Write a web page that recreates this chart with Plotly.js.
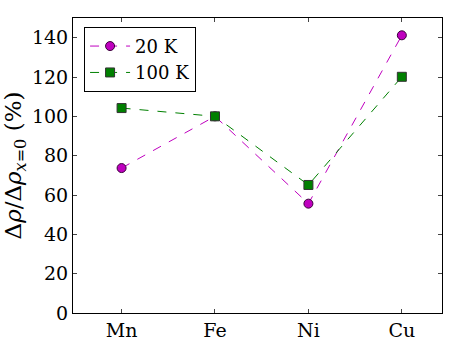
<!DOCTYPE html>
<html>
<head>
<meta charset="utf-8">
<script src="https://cdn.plot.ly/plotly-3.0.1.min.js"></script>
<style>
	html, body { margin: 0; padding: 0; background: #fff; }
	#plotDiv { width: 463px; height: 349px; }
</style>
</head>
<body>
<div id="plotDiv"></div>
<script>
// Chart data
const elements = ["Mn", "Fe", "Ni", "Cu"];
const xPos = [0, 1, 2, 3];
const ratio20K = [73.7, 100, 55.6, 141.2];
const ratio100K = [104.2, 100, 65.1, 120.1];
const yTicks = [0, 20, 40, 60, 80, 100, 120, 140];

const serif = "DejaVu Serif";

const trace20 = {
	x: xPos,
	y: ratio20K,
	type: "scatter",
	mode: "lines+markers",
	name: "20 K",
	line: { color: "#bf00bf", width: 1, dash: "dash" },
	marker: { symbol: "circle", size: 9, color: "#bf00bf", line: { color: "#3a003a", width: 1 } },
};

const trace100 = {
	x: xPos,
	y: ratio100K,
	type: "scatter",
	mode: "lines+markers",
	name: "100 K",
	line: { color: "#008000", width: 1, dash: "dash" },
	marker: { symbol: "square", size: 9, color: "#008000", line: { color: "#333333", width: 1 } },
};

const layout = {
	width: 463,
	height: 349,
	margin: { l: 73, r: 21, t: 18, b: 36 },
	paper_bgcolor: "#fff",
	plot_bgcolor: "#fff",
	font: { family: serif, size: 19, color: "#000" },
	showlegend: true,
	legend: {
		x: 0.03,
		y: 0.97,
		xanchor: "left",
		yanchor: "top",
		bordercolor: "#000",
		borderwidth: 1,
		bgcolor: "#fff",
		font: { family: serif, size: 18, color: "#000" },
		itemwidth: 40,
		tracegroupgap: 4,
	},
	xaxis: {
		range: [-0.52, 3.43],
		tickmode: "array",
		tickvals: xPos,
		ticktext: elements,
		ticks: "inside",
		ticklen: 4,
		tickcolor: "#444",
		showline: true,
		linecolor: "#000",
		linewidth: 1,
		mirror: "ticks",
		showgrid: false,
		zeroline: false,
		automargin: false,
		tickfont: { family: serif, size: 19, color: "#000" },
	},
	yaxis: {
		range: [0, 150],
		tickmode: "array",
		tickvals: yTicks,
		ticks: "inside",
		ticklen: 4,
		tickcolor: "#444",
		showline: true,
		linecolor: "#000",
		linewidth: 1,
		mirror: "ticks",
		showgrid: false,
		zeroline: false,
		automargin: false,
		tickfont: { family: serif, size: 19, color: "#000" },
		title: {
			text: "Δ<i>ρ</i>/Δ<i>ρ</i><sub><i>x</i>=0</sub> (%)",
			font: { family: serif, size: 23, color: "#000" },
			standoff: 3,
		},
	},
};

Plotly.newPlot("plotDiv", [trace20, trace100], layout, { displayModeBar: false, staticPlot: true });
</script>
</body>
</html>
